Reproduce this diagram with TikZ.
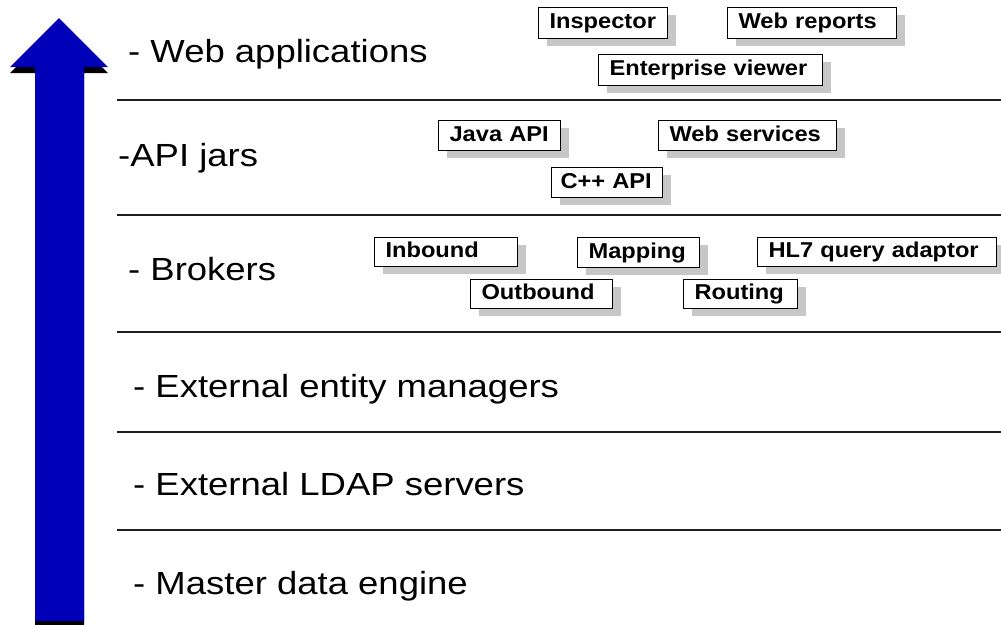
\documentclass[tikz,border=0pt]{standalone}
\usepackage{fontspec}
\setmainfont[FakeStretch=1.1]{Liberation Sans}
\newfontfamily\lblfont[FakeStretch=1.14]{Liberation Sans}
\usetikzlibrary{shadows}
\definecolor{arrowblue}{RGB}{0,0,185}
\definecolor{rulegray}{RGB}{30,30,30}
\tikzset{
  lbl/.style={anchor=base west, inner sep=0pt, font=\lblfont\fontsize{32}{38}\selectfont},
  bx/.style={draw=black, line width=1.1pt, fill=white, anchor=north west,
    inner xsep=11pt, inner ysep=0pt, text height=15.5pt, text depth=4.5pt,
    align=left, font=\fontsize{21.5}{24}\selectfont\bfseries,
    drop shadow={shadow xshift=8pt, shadow yshift=-7pt, fill=black!22, opacity=1}},
  layer/.style={draw=rulegray, line width=2.5pt}
}
\begin{document}
\begin{tikzpicture}[x=1pt,y=-1pt]
\useasboundingbox (0,0) rectangle (1001,624);
% arrow shadow and arrow
\fill[black] (10,73) -- (59,24) -- (108,73) -- (84,73) -- (84,627) -- (35,627) -- (35,73) -- cycle;
\fill[arrowblue] (10,67) -- (59,18) -- (108,67) -- (84,67) -- (84,621) -- (35,621) -- (35,67) -- cycle;
% layer separators
\draw[layer] (117,100) -- (1001,100);
\draw[layer] (117,215) -- (1001,215);
\draw[layer] (117,332) -- (1001,332);
\draw[layer] (117,432) -- (1001,432);
\draw[layer] (117,530) -- (1001,530);
% layer labels
\node[lbl] (wa) at (128,62) {- Web applications};
\node[lbl] (api) at (118,166) {-API jars};
\node[lbl] (br) at (128,280) {- Brokers};
\node[lbl] (eem) at (133,397) {- External entity managers};
\node[lbl] (ldap) at (133,495) {- External LDAP servers};
\node[lbl] (mde) at (133,594) {- Master data engine};
% boxes
\node[bx, text width=107pt, minimum height=31pt] (insp) at (538,7) {Inspector};
\node[bx, text width=147pt, minimum height=31pt] (wrep) at (727,7) {Web reports};
\node[bx, text width=202pt, minimum height=31pt] (ent) at (598,54) {Enterprise viewer};
\node[bx, text width=100pt, minimum height=30pt] (java) at (438,120) {Java API};
\node[bx, text width=156pt, minimum height=30pt] (ws) at (658,120) {Web services};
\node[bx, inner xsep=9pt, text width=93pt, minimum height=30pt] (cpp) at (551,167) {C++ API};
\node[bx, text width=121pt, minimum height=29pt] (inb) at (374,237) {Inbound};
\node[bx, text width=100pt, minimum height=30pt] (map) at (577,237) {Mapping};
\node[bx, text width=217pt, minimum height=29pt] (hl7) at (757,237) {HL7 query adaptor};
\node[bx, text width=120pt, minimum height=29pt] (outb) at (470,279) {Outbound};
\node[bx, text width=92pt, minimum height=29pt] (rout) at (683,279) {Routing};
\end{tikzpicture}
\end{document}
